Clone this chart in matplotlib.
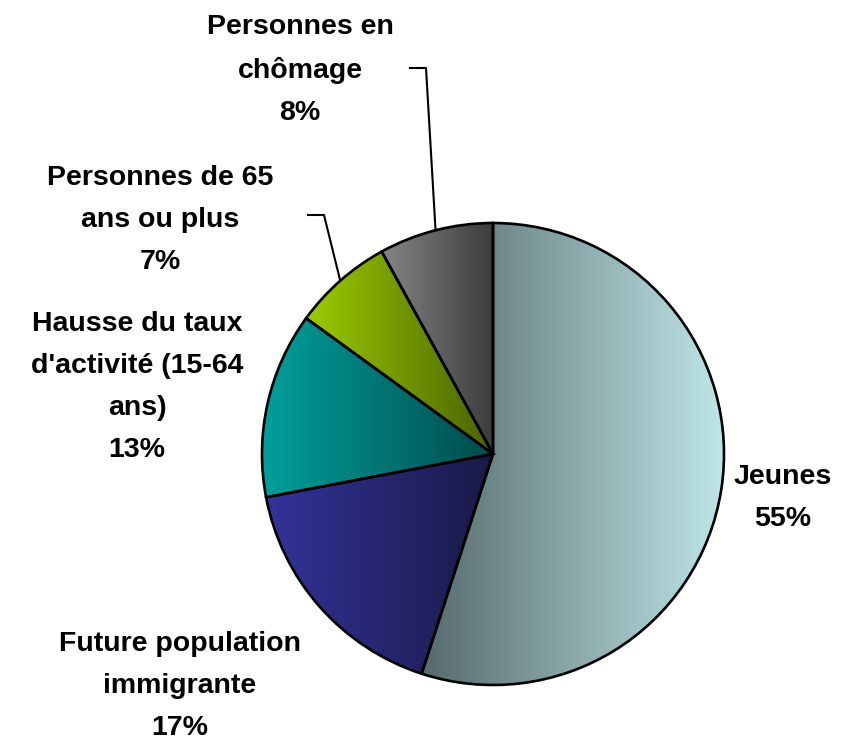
import numpy as np
import matplotlib
matplotlib.use("Agg")
import matplotlib.pyplot as plt
from matplotlib.colors import LinearSegmentedColormap

# données
labels = ["Jeunes", "Future population\nimmigrante", "Hausse du taux\nd'activité (15-64\nans)",
          "Personnes de 65\nans ou plus", "Personnes en\nchômage"]
values = [55, 17, 13, 7, 8]
# (couleur gauche, couleur droite) pour le dégradé de chaque part
grad_colors = [("#566a6d", "#bfe6e8"),
               ("#33339a", "#1a1a48"),
               ("#00a09c", "#004c4c"),
               ("#9ccc00", "#4a6200"),
               ("#858585", "#3c3c3c")]

W, H = 852, 741
plt.rcParams['font.family'] = ['Liberation Sans', 'DejaVu Sans']

fig = plt.figure(figsize=(W / 100, H / 100), dpi=100)
ax = fig.add_axes([0, 0, 1, 1])

cx, cy, R = 493, H - 454, 231
wedges, _ = ax.pie(values, startangle=90, counterclock=False, center=(cx, cy), radius=R,
                   wedgeprops=dict(edgecolor="black", linewidth=1.9), frame=True)

grad = np.linspace(0, 1, 256).reshape(1, -1)
for w, (c1, c2) in zip(wedges, grad_colors):
    th = np.radians(np.linspace(w.theta1, w.theta2, 200))
    xs = np.concatenate([[cx], cx + R * np.cos(th)])
    ys = np.concatenate([[cy], cy + R * np.sin(th)])
    cmap = LinearSegmentedColormap.from_list("g", [c1, c2])
    im = ax.imshow(grad, cmap=cmap, extent=(xs.min(), xs.max(), ys.min(), ys.max()),
                   aspect="auto", zorder=1, interpolation="bilinear")
    im.set_clip_path(w)
    w.set_facecolor("none")
    w.set_zorder(2)

ax.set_xlim(0, W)
ax.set_ylim(0, H)
ax.set_aspect("auto")
ax.axis("off")

# étiquettes
label_pos = [(783, H - 498), (180, H - 686), (137, H - 387), (160, H - 220), (300, H - 70)]
for lab, v, (tx, ty) in zip(labels, values, label_pos):
    ax.text(tx, ty, f"{lab}\n{v}%", ha="center", va="center", fontsize=20.5,
            fontweight="bold", linespacing=1.8)

# lignes de rappel
leaders = {3: (308, H - 215), 4: (410, H - 68)}
for i, (lx, ly) in leaders.items():
    w = wedges[i]
    mid = np.radians((w.theta1 + w.theta2) / 2)
    ex, ey = cx + R * np.cos(mid), cy + R * np.sin(mid)
    ax.plot([lx, lx + 16, ex], [ly, ly, ey], color="black", lw=1.5, zorder=3)

fig.savefig("out.png", dpi=100)
